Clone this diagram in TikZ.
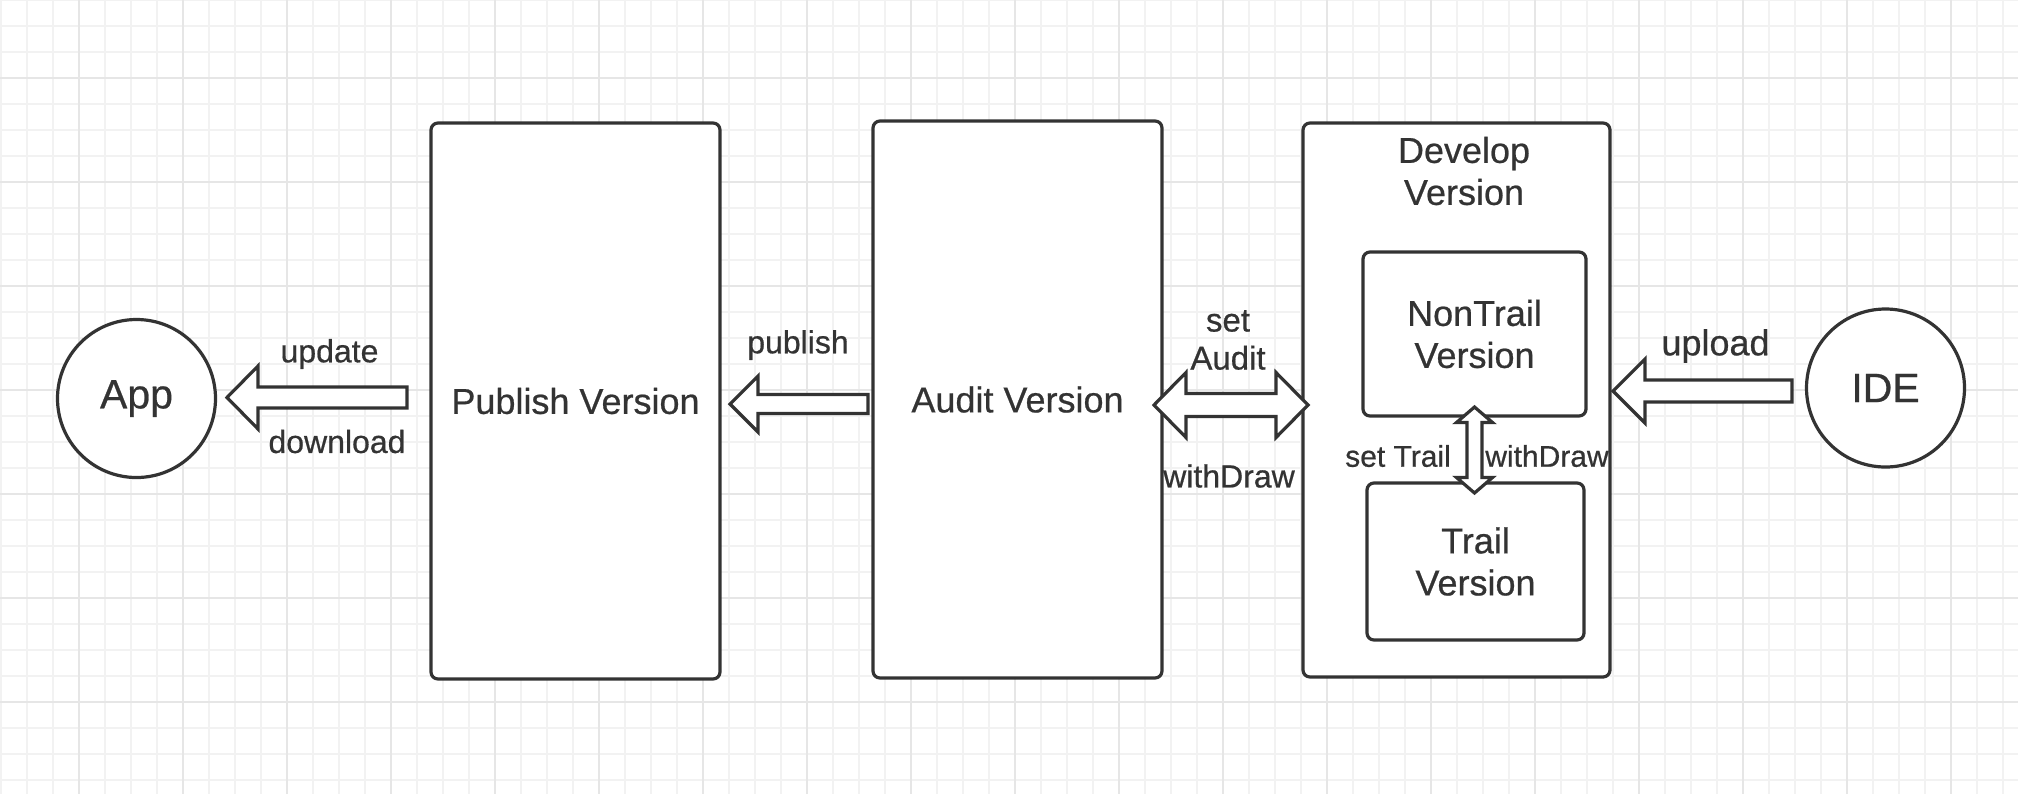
\documentclass[tikz,border=0pt]{standalone}
\usepackage{fontspec}
\setmainfont{Liberation Sans}[FakeBold=0.6]
\usetikzlibrary{calc}
\definecolor{ink}{HTML}{333333}
\definecolor{gridminor}{HTML}{F2F2F2}
\definecolor{gridmajor}{HTML}{E6E6E6}
\newcommand\myLArrow[5]{\draw[blockarrow] (#1) -- ($(#1)+(#3,-#4)$) -- ($(#1)+(#3,-#5)$) -- ($(#2)+(0,-#5)$) -- ($(#2)+(0,#5)$) -- ($(#1)+(#3,#5)$) -- ($(#1)+(#3,#4)$) -- cycle;}
\newcommand\myHDArrow[5]{\draw[blockarrow] (#1) -- ($(#1)+(#3,-#4)$) -- ($(#1)+(#3,-#5)$) -- ($(#2)+(-#3,-#5)$) -- ($(#2)+(-#3,-#4)$) -- (#2) -- ($(#2)+(-#3,#4)$) -- ($(#2)+(-#3,#5)$) -- ($(#1)+(#3,#5)$) -- ($(#1)+(#3,#4)$) -- cycle;}
\newcommand\myVDArrow[5]{\draw[blockarrow] (#1) -- ($(#1)+(#4,#3)$) -- ($(#1)+(#5,#3)$) -- ($(#2)+(#5,-#3)$) -- ($(#2)+(#4,-#3)$) -- (#2) -- ($(#2)+(-#4,-#3)$) -- ($(#2)+(-#5,-#3)$) -- ($(#1)+(-#5,#3)$) -- ($(#1)+(-#4,#3)$) -- cycle;}
\begin{document}
\begin{tikzpicture}[x=0.5pt,y=-0.5pt,
  box/.style={draw=ink, line width=1.6pt, rounded corners=3.5pt, fill=white, inner sep=0pt, align=center, text=ink, font=\fontsize{18}{21}\selectfont},
  circ/.style={draw=ink, line width=1.6pt, circle, fill=white, inner sep=0pt, minimum size=79pt, text=ink, font=\fontsize{20.5}{24}\selectfont},
  lbl/.style={text=ink, inner sep=0pt, align=center},
  midlbl/.style={lbl, font=\fontsize{16}{19}\selectfont},
  smalllbl/.style={lbl, font=\fontsize{15}{18}\selectfont},
  biglbl/.style={lbl, font=\fontsize{18}{21}\selectfont},
  blockarrow/.style={draw=ink, line width=1.6pt, fill=white, line join=miter},
  gmin/.style={draw=gridminor, line width=1pt},
  gmaj/.style={draw=gridmajor, line width=1pt}]
\useasboundingbox (0,0) rectangle (2018,794);
\fill[white] (0,0) rectangle (2018,794);
% grid
\foreach \k in {0,...,77} \draw[gmin] ({1+26*\k},0) -- ({1+26*\k},794);
\foreach \k in {0,...,30} \draw[gmin] (0,{0.3+26*\k}) -- (2018,{0.3+26*\k});
\foreach \k in {3,7,...,75} \draw[gmaj] ({1+26*\k},0) -- ({1+26*\k},794);
\foreach \k in {3,7,...,27} \draw[gmaj] (0,{0.3+26*\k}) -- (2018,{0.3+26*\k});
% main shapes
\node[circ] (app) at (136.5,398.5) {App};
\node[circ] (ide) at (1885.5,388) {IDE};
\node[box, minimum width=144.5pt, minimum height=278pt] (pub) at (575.5,401) {Publish Version};
\node[box, minimum width=144.5pt, minimum height=278.5pt] (aud) at (1017.5,399.5) {Audit Version};
\node[box, minimum width=153.5pt, minimum height=277pt] (dev) at (1456.5,400) {};
\node[biglbl] (devlbl) at (1464,171) {Develop\\Version};
\node[box, minimum width=111.5pt, minimum height=82pt] (nontrail) at (1474.5,334) {NonTrail\\Version};
\node[box, minimum width=108.5pt, minimum height=78.5pt] (trail) at (1475.5,561.5) {Trail\\Version};
% arrow end points
\coordinate (updtip) at (227,397.5);
\coordinate (updend) at (407,397.5);
\coordinate (pubtip) at (730,404);
\coordinate (pubend) at (868,404);
\coordinate (audL) at (1154,405);
\coordinate (audR) at (1308,405);
\coordinate (trT) at (1474.5,407);
\coordinate (trB) at (1474.5,493);
\coordinate (uptip) at (1613,391);
\coordinate (upend) at (1792,391);
% block arrows
\myLArrow{updtip}{updend}{31}{31.5}{10.5}
\myLArrow{pubtip}{pubend}{28}{28}{9.5}
\myHDArrow{audL}{audR}{32}{32.5}{11.5}
\myVDArrow{trT}{trB}{15.5}{18}{7.5}
\myLArrow{uptip}{upend}{32}{32}{11}
% labels
\node[midlbl] (tupdate) at (329.5,354) {update};
\node[midlbl] (tdownload) at (337,441.5) {download};
\node[midlbl] (tpublish) at (798,345) {publish};
\node[lbl, font=\fontsize{16.5}{19}\selectfont] (tsetaudit) at (1228,340) {set\\Audit};
\node[midlbl] (twithdraw) at (1229,476) {withDraw};
\node[smalllbl] (tsettrail) at (1398,456) {set Trail};
\node[smalllbl] (twithdraw2) at (1547,456) {withDraw};
\node[lbl, font=\fontsize{18}{21}\selectfont] (tupload) at (1715.5,346) {upload};
\end{tikzpicture}
\end{document}
